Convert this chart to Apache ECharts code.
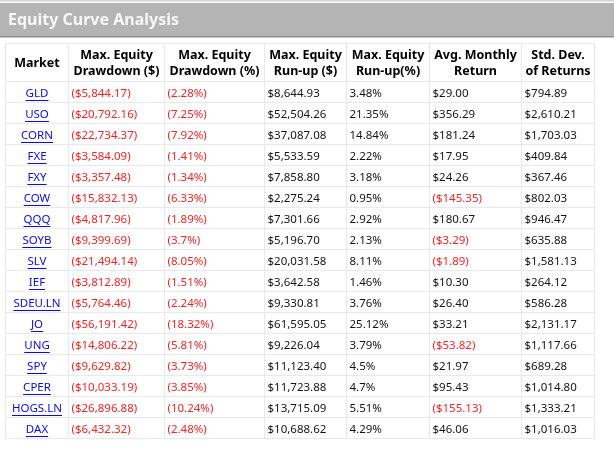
<!DOCTYPE html>
<html>
<head>
<meta charset="utf-8">
<script src="https://cdn.jsdelivr.net/npm/echarts@6/dist/echarts.min.js"></script>
<style>
html,body{margin:0;padding:0;background:#fff;}
#main{width:614px;height:449px;}
</style>
</head>
<body>
<div id="main"></div>
<script>
// ---- data ----
var titleText = 'Equity Curve Analysis';
var headers = [
  ['Market'],
  ['Max. Equity', 'Drawdown ($)'],
  ['Max. Equity', 'Drawdown (%)'],
  ['Max. Equity', 'Run-up ($)'],
  ['Max. Equity', 'Run-up(%)'],
  ['Avg. Monthly', 'Return'],
  ['Std. Dev.', 'of Returns']
];
var markets = ['GLD','USO','CORN','FXE','FXY','COW','QQQ','SOYB','SLV','IEF','SDEU.LN','JO','UNG','SPY','CPER','HOGS.LN','DAX'];
var drawdownUsd = [-5844.17,-20792.16,-22734.37,-3584.09,-3357.48,-15832.13,-4817.96,-9399.69,-21494.14,-3812.89,-5764.46,-56191.42,-14806.22,-9629.82,-10033.19,-26896.88,-6432.32];
var drawdownPct = [-2.28,-7.25,-7.92,-1.41,-1.34,-6.33,-1.89,-3.7,-8.05,-1.51,-2.24,-18.32,-5.81,-3.73,-3.85,-10.24,-2.48];
var runupUsd = [8644.93,52504.26,37087.08,5533.59,7858.80,2275.24,7301.66,5196.70,20031.58,3642.58,9330.81,61595.05,9226.04,11123.40,11723.88,13715.09,10688.62];
var runupPct = [3.48,21.35,14.84,2.22,3.18,0.95,2.92,2.13,8.11,1.46,3.76,25.12,3.79,4.5,4.7,5.51,4.29];
var avgMonthly = [29.00,356.29,181.24,17.95,24.26,-145.35,180.67,-3.29,-1.89,10.30,26.40,33.21,-53.82,21.97,95.43,-155.13,46.06];
var stdDev = [794.89,2610.21,1703.03,409.84,367.46,802.03,946.47,635.88,1581.13,264.12,586.28,2131.17,1117.66,689.28,1014.80,1333.21,1016.03];

// ---- layout ----
var colEdges = [0, 63, 159, 259, 341, 424, 516, 589];
var headerH = 38, rowH = 21;
var tableH = headerH + rowH * markets.length;
var FONT = '"Noto Sans", "Open Sans", sans-serif';
var RED = '#ff1f1f', BLUE = '#0a0af0', BLACK = '#141414';

function money(v) {
  var s = '$' + Math.abs(v).toLocaleString('en-US', {minimumFractionDigits: 2, maximumFractionDigits: 2});
  return v < 0 ? '(' + s + ')' : s;
}
function pct(v) {
  var s = String(Math.abs(v)) + '%';
  return v < 0 ? '(' + s + ')' : s;
}

// build cells
var cells = [];
headers.forEach(function (h, c) {
  cells.push({value: [c, -1], lines: h, kind: 'header'});
});
markets.forEach(function (m, r) {
  cells.push({value: [0, r], text: m, kind: 'link'});
  var cols = [
    [drawdownUsd[r], money], [drawdownPct[r], pct], [runupUsd[r], money],
    [runupPct[r], pct], [avgMonthly[r], money], [stdDev[r], money]
  ];
  cols.forEach(function (cv, i) {
    cells.push({value: [i + 1, r], text: cv[1](cv[0]), neg: cv[0] < 0, kind: 'data'});
  });
});

var measureCtx = document.createElement('canvas').getContext('2d');

function renderItem(params, api) {
  var c = api.value(0), r = api.value(1);
  var cell = cells[params.dataIndex];
  var y0 = r < 0 ? 0 : headerH + r * rowH;
  var y1 = r < 0 ? headerH : y0 + rowH;
  var p0 = api.coord([colEdges[c], y0]);
  var p1 = api.coord([colEdges[c + 1], y1]);
  var x = Math.round(p0[0]) + 0.5, y = Math.round(p0[1]) + 0.5;
  var w = Math.round(p1[0]) - Math.round(p0[0]), h = Math.round(p1[1]) - Math.round(p0[1]);
  var children = [{
    type: 'rect', shape: {x: x, y: y, width: w, height: h},
    style: {fill: '#fff', stroke: '#e9e9e9', lineWidth: 1}
  }];
  var cx = x + w / 2, cy = y + h / 2;
  if (cell.kind === 'header') {
    var n = cell.lines.length;
    cell.lines.forEach(function (t, i) {
      children.push({
        type: 'text',
        style: {text: t, x: cx, y: cy + 1 + (i - (n - 1) / 2) * 16.5, fill: '#000',
          font: 'bold 12.5px ' + FONT, align: 'center', verticalAlign: 'middle'}
      });
    });
  } else if (cell.kind === 'link') {
    var f = '11.5px ' + FONT;
    measureCtx.font = f;
    var tw = measureCtx.measureText(cell.text).width;
    children.push({
      type: 'text',
      style: {text: cell.text, x: cx, y: cy + 1.5, fill: BLUE, font: f, align: 'center', verticalAlign: 'middle'}
    });
    var uy = Math.round(cy + 8) + 0.5;
    children.push({
      type: 'line', shape: {x1: cx - tw / 2, y1: uy, x2: cx + tw / 2, y2: uy},
      style: {stroke: BLUE, lineWidth: 1}
    });
  } else {
    children.push({
      type: 'text',
      style: {text: cell.text, x: x + 3, y: cy + 1.5, fill: cell.neg ? RED : BLACK,
        font: '11.5px ' + FONT, align: 'left', verticalAlign: 'middle'}
    });
  }
  return {type: 'group', children: children};
}

var chart = echarts.init(document.getElementById('main'), null, {renderer: 'canvas'});
chart.setOption({
  animation: false,
  backgroundColor: '#fff',
  title: {
    text: titleText, left: 3, top: 7,
    textStyle: {color: '#f7f7f7', fontSize: 16, fontWeight: 'bold', fontFamily: FONT}
  },
  graphic: [
    {type: 'rect', z: -1, shape: {x: 0, y: 0, width: 614, height: 1.5}, style: {fill: '#d4d4d4'}},
    {type: 'rect', z: -1, shape: {x: 0, y: 3, width: 614, height: 34}, style: {fill: '#b4b4b4'}},
    {type: 'rect', z: -1, shape: {x: 0, y: 36, width: 614, height: 1.5}, style: {fill: '#8e8e8e'}}
  ],
  grid: {left: 5, top: 43, width: 589, height: tableH, containLabel: false},
  xAxis: {type: 'value', min: 0, max: colEdges[colEdges.length - 1], show: false},
  yAxis: {type: 'value', min: 0, max: tableH, inverse: true, show: false},
  series: [{
    type: 'custom',
    coordinateSystem: 'cartesian2d',
    renderItem: renderItem,
    clip: false,
    data: cells.map(function (c) { return c.value; })
  }]
});
</script>
</body>
</html>
